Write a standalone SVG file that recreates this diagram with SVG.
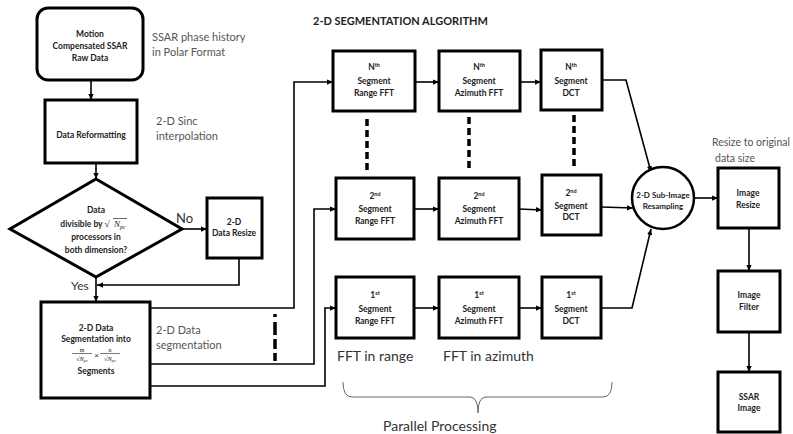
<svg xmlns="http://www.w3.org/2000/svg" width="793" height="434" viewBox="0 0 793 434">
<defs>
<marker id="ah" viewBox="0 0 8 8" refX="8" refY="4" markerWidth="6" markerHeight="6" orient="auto" markerUnits="userSpaceOnUse">
<path d="M0,0.5 L8,4 L0,7.5 Z" fill="#000"/>
</marker>
</defs>
<style>
.box{fill:#fff;stroke:#000;stroke-width:3}
.bt{font-family:Lato,"Liberation Sans",sans-serif;font-weight:bold;font-size:8.5px;fill:#222;text-anchor:middle}
.sup{font-size:5.5px}
.ann{font-family:Lato,"Liberation Sans",sans-serif;font-size:11px;fill:#555}
.lab{font-family:Lato,"Liberation Sans",sans-serif;font-size:14px;fill:#333}
.con{fill:none;stroke:#000;stroke-width:1.6}
.arr{marker-end:url(#ah)}
.dash{fill:none;stroke:#000;stroke-width:3.5;stroke-dasharray:7 4}
.math{font-family:"Liberation Serif",serif;font-style:italic}
</style>
<rect width="793" height="434" fill="#fff"/>

<text x="313" y="25" style="font-family:Lato,'Liberation Sans',sans-serif;font-weight:bold;font-size:11px;fill:#222">2-D SEGMENTATION ALGORITHM</text>

<g id="connectors">
<path class="con arr" d="M91,80 V100"/>
<path class="con arr" d="M96,163 V179"/>
<path class="con arr" d="M182,229 H207"/>
<path class="con arr" d="M239,258 V285 H97"/>
<path class="con arr" d="M96,277 V302"/>
<path class="con arr" d="M150,308 H294 V82 H333"/>
<path class="con arr" d="M150,364 H314 V209 H336"/>
<path class="con arr" d="M150,386 H325 V308 H336"/>
<path class="con arr" d="M415,82 H439"/>
<path class="con arr" d="M520,82 H541"/>
<path class="con arr" d="M414,209 H439"/>
<path class="con arr" d="M519,209 L542,210"/>
<path class="con arr" d="M414,308 H439"/>
<path class="con arr" d="M519,308 H542"/>
<path class="con arr" d="M602,80 H626 L651,172"/>
<path class="con arr" d="M601,207 L633,208"/>
<path class="con arr" d="M601,308 H632 L651,229"/>
<path class="con arr" d="M694,198 H718"/>
<path class="con arr" d="M749,228 V271"/>
<path class="con arr" d="M749,332 V372"/>
<path class="dash" d="M367,119 V170"/>
<path class="dash" d="M469,117 V170"/>
<path class="dash" d="M574,115 V166"/>
<path class="dash" d="M275,314 V361" style="stroke-dasharray:3 5 13 4 10 4 12 0"/>
<path d="M343,382 Q343,397 352,397 H470 Q478,397 478,413 Q478,397 486,397 H603 Q612,397 612,382" fill="none" stroke="#666" stroke-width="1"/>
</g>

<g id="motion">
<rect class="box" x="37" y="8" width="106" height="72" rx="11"/>
<text class="bt" x="90" y="37">Motion</text>
<text class="bt" x="90" y="49">Compensated SSAR</text>
<text class="bt" x="90" y="61">Raw Data</text>
</g>
<text class="ann" x="152" y="41">SSAR phase history</text>
<text class="ann" x="152" y="56">in Polar Format</text>

<g id="reformat">
<rect class="box" x="45" y="100" width="92" height="63"/>
<text class="bt" x="91" y="138">Data Reformatting</text>
</g>
<text class="ann" x="156" y="125">2-D  Sinc</text>
<text class="ann" x="156" y="140">interpolation</text>

<g id="decision">
<polygon points="96,179 182,229 96,277 10,229" fill="#fff" stroke="#000" stroke-width="3" stroke-linejoin="miter"/>
<text class="bt" x="96" y="213">Data</text>
<text class="bt" x="85" y="227">divisible by <tspan class="math" font-weight="normal" font-size="9.5px">√</tspan></text>
<line x1="113" y1="218.5" x2="127" y2="218.5" stroke="#222" stroke-width="0.7"/>
<text x="114" y="227" class="math" style="font-size:9px;fill:#222">N<tspan font-size="6px" dy="1.5">pc</tspan></text>
<text class="bt" x="96" y="240">processors in</text>
<text class="bt" x="96" y="253">both dimension?</text>
</g>
<text x="176" y="223" style="font-family:Lato,'Liberation Sans',sans-serif;font-size:13px;fill:#333">No</text>
<text x="71" y="290" style="font-family:Lato,'Liberation Sans',sans-serif;font-size:12px;fill:#333">Yes</text>

<g id="resize2d">
<rect class="box" x="207" y="198" width="55" height="60"/>
<text class="bt" x="234" y="225">2-D</text>
<text class="bt" x="234" y="236">Data Resize</text>
</g>

<g id="segmentation">
<rect class="box" x="41" y="302" width="109" height="96"/>
<text class="bt" x="96" y="331">2-D Data</text>
<text class="bt" x="96" y="342">Segmentation into</text>
<text x="82" y="351.5" class="math" style="font-size:6px;fill:#222;text-anchor:middle;font-style:normal">m</text>
<line x1="72" y1="353.5" x2="92" y2="353.5" stroke="#222" stroke-width="0.6"/>
<text x="82" y="361" class="math" style="font-size:6.5px;fill:#222;text-anchor:middle">√N<tspan font-size="4.5px" dy="1">pc</tspan></text>
<text x="96.5" y="357.5" style="font-family:'Liberation Sans',sans-serif;font-size:8px;fill:#222;text-anchor:middle">×</text>
<text x="110" y="351.5" class="math" style="font-size:6px;fill:#222;text-anchor:middle;font-style:normal">n</text>
<line x1="100" y1="353.5" x2="120" y2="353.5" stroke="#222" stroke-width="0.6"/>
<text x="110" y="361" class="math" style="font-size:6.5px;fill:#222;text-anchor:middle">√N<tspan font-size="4.5px" dy="1">pc</tspan></text>
<text class="bt" x="96" y="374">Segments</text>
</g>
<text class="ann" x="156" y="334">2-D Data</text>
<text class="ann" x="156" y="349">segmentation</text>

<g id="nRange">
<rect class="box" x="333" y="51" width="82" height="60"/>
<text class="bt" x="374" y="70">N<tspan class="sup" dy="-3">th</tspan></text>
<text class="bt" x="374" y="84">Segment</text>
<text class="bt" x="374" y="96">Range FFT</text>
</g>
<g id="nAzimuth">
<rect class="box" x="439" y="51" width="81" height="60"/>
<text class="bt" x="479" y="70">N<tspan class="sup" dy="-3">th</tspan></text>
<text class="bt" x="479" y="84">Segment</text>
<text class="bt" x="479" y="96">Azimuth FFT</text>
</g>
<g id="nDCT">
<rect class="box" x="541" y="50" width="61" height="60"/>
<text class="bt" x="571" y="70">N<tspan class="sup" dy="-3">th</tspan></text>
<text class="bt" x="571" y="84">Segment</text>
<text class="bt" x="571" y="96">DCT</text>
</g>

<g id="s2Range">
<rect class="box" x="336" y="178" width="78" height="61"/>
<text class="bt" x="375" y="199">2<tspan class="sup" dy="-3">nd</tspan></text>
<text class="bt" x="375" y="212">Segment</text>
<text class="bt" x="375" y="224">Range FFT</text>
</g>
<g id="s2Azimuth">
<rect class="box" x="439" y="178" width="80" height="61"/>
<text class="bt" x="479" y="199">2<tspan class="sup" dy="-3">nd</tspan></text>
<text class="bt" x="479" y="212">Segment</text>
<text class="bt" x="479" y="224">Azimuth FFT</text>
</g>
<g id="s2DCT">
<rect class="box" x="542" y="175" width="59" height="60"/>
<text class="bt" x="571" y="196">2<tspan class="sup" dy="-3">nd</tspan></text>
<text class="bt" x="571" y="209">Segment</text>
<text class="bt" x="571" y="220">DCT</text>
</g>

<g id="s1Range">
<rect class="box" x="336" y="277" width="78" height="61"/>
<text class="bt" x="375" y="298">1<tspan class="sup" dy="-3">st</tspan></text>
<text class="bt" x="375" y="312">Segment</text>
<text class="bt" x="375" y="324">Range FFT</text>
</g>
<g id="s1Azimuth">
<rect class="box" x="439" y="277" width="80" height="61"/>
<text class="bt" x="479" y="298">1<tspan class="sup" dy="-3">st</tspan></text>
<text class="bt" x="479" y="312">Segment</text>
<text class="bt" x="479" y="324">Azimuth FFT</text>
</g>
<g id="s1DCT">
<rect class="box" x="542" y="277" width="59" height="61"/>
<text class="bt" x="571" y="298">1<tspan class="sup" dy="-3">st</tspan></text>
<text class="bt" x="571" y="312">Segment</text>
<text class="bt" x="571" y="324">DCT</text>
</g>

<text class="lab" x="337" y="361">FFT in range</text>
<text class="lab" x="443" y="361">FFT in azimuth</text>
<text class="lab" x="383" y="431">Parallel Processing</text>

<g id="resampling">
<circle cx="663" cy="198" r="31" fill="#fff" stroke="#000" stroke-width="2.5"/>
<text class="bt" x="663" y="198" style="font-size:8px">2-D Sub-Image</text>
<text class="bt" x="663" y="209" style="font-size:8px">Resampling</text>
</g>

<text class="ann" x="712" y="146" style="font-size:10.5px">Resize to original</text>
<text class="ann" x="715" y="162" style="font-size:10.5px">data size</text>

<g id="imageResize">
<rect class="box" x="718" y="168" width="61" height="60"/>
<text class="bt" x="748" y="196">Image</text>
<text class="bt" x="748" y="208">Resize</text>
</g>
<g id="imageFilter">
<rect class="box" x="718" y="271" width="62" height="61"/>
<text class="bt" x="749" y="298">Image</text>
<text class="bt" x="749" y="310">Filter</text>
</g>
<g id="ssarImage">
<rect class="box" x="718" y="372" width="62" height="60"/>
<text class="bt" x="749" y="400">SSAR</text>
<text class="bt" x="749" y="411">Image</text>
</g>
</svg>
